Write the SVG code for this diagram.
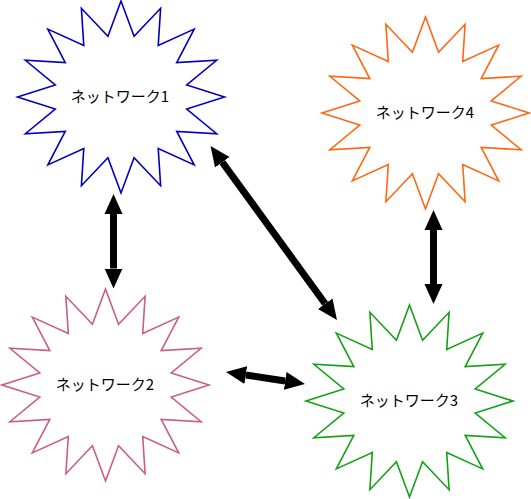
<svg xmlns="http://www.w3.org/2000/svg" xmlns:xlink="http://www.w3.org/1999/xlink" width="531" height="499" viewBox="0 0 531 499">
  <style>
    .star { fill: #ffffff; stroke-width: 1.6; stroke-linejoin: miter; }
    .label { font-family: "Noto Sans CJK JP", "Liberation Sans", sans-serif; font-size: 15px; fill: #000000; text-anchor: middle; }
    .conn { stroke: #000000; stroke-width: 7; fill: none; }
  </style>
  <defs>
    <polygon id="star16" points="0,-96 13.07,-60.81 39.61,-88.69 37.22,-51.55 73.18,-67.88 55.71,-34.45 95.62,-36.74 65.71,-12.1 103.5,0 65.71,12.1 95.62,36.74 55.71,34.45 73.18,67.88 37.22,51.55 39.61,88.69 13.07,60.81 0,96 -13.07,60.81 -39.61,88.69 -37.22,51.55 -73.18,67.88 -55.71,34.45 -95.62,36.74 -65.71,12.1 -103.5,0 -65.71,-12.1 -95.62,-36.74 -55.71,-34.45 -73.18,-67.88 -37.22,-51.55 -39.61,-88.69 -13.07,-60.81"/>
    <marker id="head" markerUnits="userSpaceOnUse" markerWidth="22" markerHeight="20" viewBox="0 -10 22 20" refX="0" refY="0" orient="auto-start-reverse">
      <path d="M0,-9 L20,0 L0,9 Z" fill="#000000"/>
    </marker>
  </defs>

  <g id="network1">
    <use xlink:href="#star16" href="#star16" class="star" stroke="#0000bb" transform="translate(121,97)"/>
    <text class="label" x="120" y="102">ネットワーク1</text>
  </g>
  <g id="network4">
    <use xlink:href="#star16" href="#star16" class="star" stroke="#ff6611" transform="translate(425.5,113)"/>
    <text class="label" x="425" y="118">ネットワーク4</text>
  </g>
  <g id="network2">
    <use xlink:href="#star16" href="#star16" class="star" stroke="#cc5c85" transform="translate(105.5,385)"/>
    <text class="label" x="105" y="390">ネットワーク2</text>
  </g>
  <g id="network3">
    <use xlink:href="#star16" href="#star16" class="star" stroke="#14a014" transform="translate(409.5,401)"/>
    <text class="label" x="409" y="406">ネットワーク3</text>
  </g>

  <g id="connectors">
    <line class="conn" x1="113.5" y1="214" x2="113.5" y2="268.5" marker-start="url(#head)" marker-end="url(#head)"/>
    <line class="conn" x1="433.5" y1="230" x2="433.5" y2="284" marker-start="url(#head)" marker-end="url(#head)"/>
    <line class="conn" x1="222.3" y1="162.2" x2="325.2" y2="303.8" marker-start="url(#head)" marker-end="url(#head)"/>
    <line class="conn" x1="245.8" y1="375" x2="285.2" y2="381" marker-start="url(#head)" marker-end="url(#head)"/>
  </g>
</svg>
